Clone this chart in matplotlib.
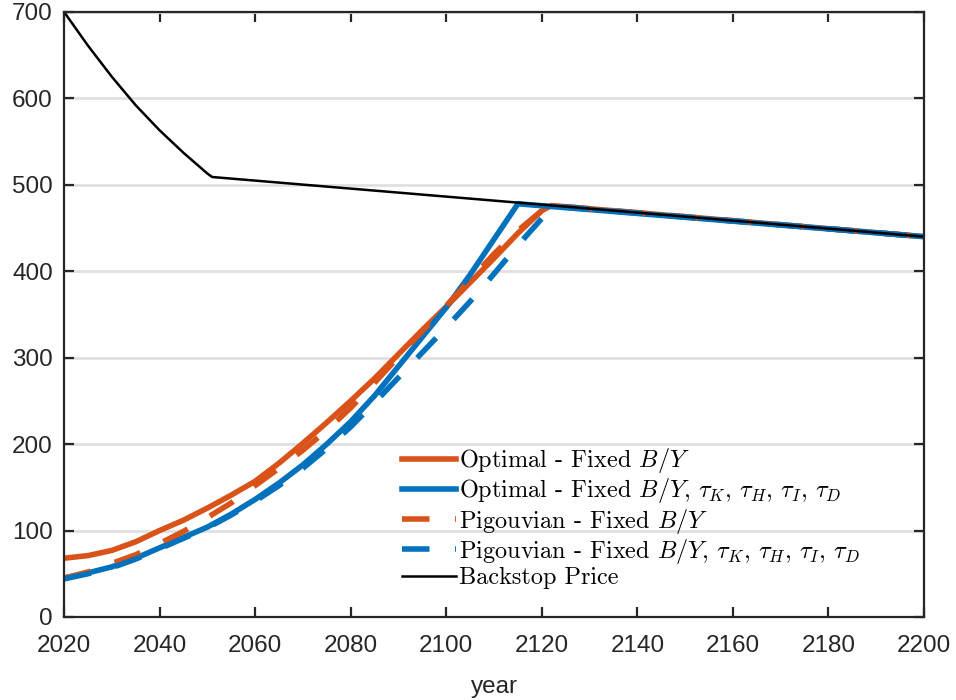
import matplotlib
matplotlib.use('Agg')
import matplotlib.pyplot as plt

plt.rcParams['font.family'] = 'Liberation Sans'
plt.rcParams['mathtext.fontset'] = 'cm'

# Backstop price
bs_years = [2020, 2025, 2030, 2035, 2040, 2045, 2050, 2051, 2200]
bs_vals = [700, 661, 625, 592, 563, 537, 513, 509, 440]

# Optimal - Fixed B/Y
opt_years = [2020, 2025, 2030, 2035, 2040, 2045, 2050, 2055, 2060, 2065, 2070, 2075,
             2080, 2085, 2090, 2095, 2100, 2105, 2110, 2115, 2120, 2122, 2200]
opt_vals = [68, 71, 77, 87, 100, 112, 126, 141, 157, 178, 201, 225,
            250, 276, 304, 332, 359, 387, 415, 444, 470, 476, 440]

# Optimal - Fixed B/Y, taxes
optt_years = [2020, 2025, 2030, 2035, 2040, 2045, 2050, 2055, 2060, 2065, 2070, 2075,
              2080, 2085, 2090, 2095, 2100, 2105, 2110, 2115, 2200]
optt_vals = [45, 51, 58, 68, 80, 92, 104, 119, 136, 155, 176, 200,
             226, 256, 290, 324, 358, 396, 437, 478, 440]

# Pigouvian - Fixed B/Y
pig_years = [2020, 2025, 2030, 2035, 2040, 2045, 2050, 2055, 2060, 2065, 2070, 2075,
             2080, 2085, 2090, 2095, 2100, 2105, 2110, 2115, 2120, 2122, 2200]
pig_vals = [45, 52, 62, 72, 85, 99, 115, 132, 152, 172, 193, 216,
            242, 271, 301, 331, 360, 390, 420, 447, 470, 476, 440]

# Pigouvian - Fixed B/Y, taxes
pigt_years = [2020, 2025, 2030, 2035, 2040, 2045, 2050, 2055, 2060, 2065, 2070, 2075,
              2080, 2085, 2090, 2095, 2100, 2105, 2110, 2115, 2120, 2123, 2200]
pigt_vals = [44, 50, 57, 67, 79, 91, 103, 118, 134, 152, 172, 195,
             220, 248, 277, 306, 335, 365, 397, 430, 461, 475, 440]

labels = ['Optimal - Fixed $B/Y$',
          r'Optimal - Fixed $B/Y$, $\tau_K$, $\tau_H$, $\tau_I$, $\tau_D$',
          'Pigouvian - Fixed $B/Y$',
          r'Pigouvian - Fixed $B/Y$, $\tau_K$, $\tau_H$, $\tau_I$, $\tau_D$',
          'Backstop Price']

orange = '#D95319'
blue = '#0072BD'
dark = '#262626'

fig = plt.figure(figsize=(9.56, 7.0), dpi=100)
ax = fig.add_axes([0.067, 0.1186, 0.8995, 0.8644])

dash = (4.95, 4.6)
ax.plot(opt_years, opt_vals, color=orange, lw=4, label=labels[0])
ax.plot(optt_years, optt_vals, color=blue, lw=4, label=labels[1])
ax.plot(pig_years, pig_vals, color=orange, lw=4, dashes=dash, label=labels[2])
ax.plot(pigt_years, pigt_vals, color=blue, lw=4, dashes=dash, label=labels[3])
ax.plot(bs_years, bs_vals, color='black', lw=1.8, label=labels[4])

ax.set_xlim(2020, 2200)
ax.set_ylim(0, 700)
ax.set_xticks(range(2020, 2201, 20))
ax.set_yticks(range(0, 701, 100))
ax.yaxis.grid(True, color='#e0e0e0', lw=2)
ax.set_axisbelow(True)
for s in ax.spines.values():
    s.set_color(dark)
    s.set_linewidth(1.6)
ax.tick_params(direction='in', length=7, width=1.6, colors=dark, labelsize=17.5,
               top=True, right=True)
ax.tick_params(axis='x', pad=13)
ax.tick_params(axis='y', pad=8)
ax.set_xlabel('year', fontsize=17.5, color=dark, labelpad=14)

leg = ax.legend(loc='lower left', bbox_to_anchor=(0.382, 0.03), frameon=False,
                prop={'family': 'cmr10', 'size': 17.5}, handlelength=2.2,
                handletextpad=0.15, labelspacing=0.05, borderaxespad=0.0)

fig.savefig('out.png', dpi=100)
